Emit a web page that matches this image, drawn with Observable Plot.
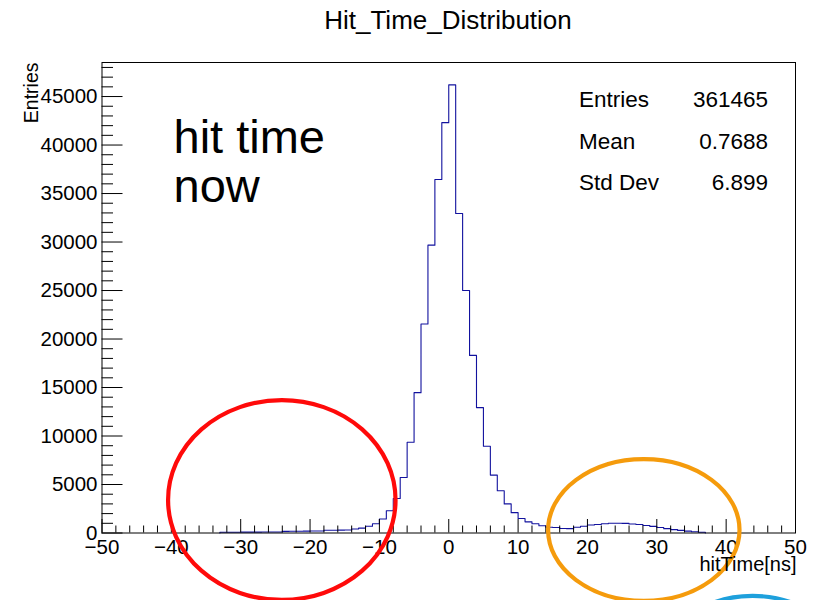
<!DOCTYPE html>
<html>
<head>
<meta charset="utf-8">
<script src="https://cdn.jsdelivr.net/npm/d3@7"></script>
<script src="https://cdn.jsdelivr.net/npm/@observablehq/plot@0.6"></script>
<style>
  body { margin: 0; background: #fff; font-family: "Liberation Sans", Arial, Helvetica, sans-serif; }
  #title { height: 40px; width: 694px; margin-left: 101px; text-align: center; font-size: 26px; line-height: 40px; color: #000; }
</style>
</head>
<body>
<div id="title">Hit_Time_Distribution</div>
<div id="chart"></div>
<script>
// Histogram of hit times, 1 ns bins; first filled bin starts at -33 ns
const binWidth = 1;
const firstBinLow = -33;
const counts = [
  70, 80, 80, 90, 90, 90, 100, 100, 110,        // -33 .. -25
  170, 180, 180, 190, 200, 200,                  // -24 .. -19
  280, 290, 300, 310,                            // -18 .. -15
  410, 500, 700, 960, 1450, 2300, 3550, 5720,    // -14 .. -7
  9350, 14470, 21550, 29680, 36440, 42310,       // -6 .. -1
  46200, 32940, 25010, 18310, 12930, 8940,       // 0 .. 5
  5970, 4350, 3000, 2100, 1500, 1150, 950, 750,  // 6 .. 13
  600, 560, 470, 450, 600, 700, 820, 880,        // 14 .. 21
  950, 1000, 1010, 990, 930, 870, 770, 680,      // 22 .. 29
  560, 450, 350, 270, 190, 130, 80               // 30 .. 36
];

// Statistics box
const statLabels = ["Entries", "Mean", "Std Dev"];
const statValues = ["361465", "0.7688", "6.899"];

// Axis ticks
const xMajorTicks = [-50, -40, -30, -20, -10, 0, 10, 20, 30, 40, 50];
const xMinorTicks = d3.range(-50, 51, 2).filter(v => v % 10 !== 0);
const yMajorTicks = [0, 5000, 10000, 15000, 20000, 25000, 30000, 35000, 40000, 45000];
const yMinorTicks = d3.range(0, 48001, 1000).filter(v => v % 5000 !== 0);
const yMax = 48510;

// Hand-drawn highlight ellipses, in data units (ns, entries)
const highlights = [
  {x: -24.0, y: 3350, rx: 16.4, ry: 10300, color: "#ff0a0a"},
  {x: 28.2, y: 260, rx: 13.8, ry: 7310, color: "#f59b0c"},
  {x: 43.9, y: -13750, rx: 13.0, ry: 7210, color: "#1ea0dc"}
];

// Step outline points
const outline = [{t: firstBinLow, n: 0}]
  .concat(counts.map((n, i) => ({t: firstBinLow + i * binWidth, n})))
  .concat([{t: firstBinLow + counts.length * binWidth, n: 0}]);

const W = 816, H = 560;
const mL = 101.5, mR = 21, mT = 22, mB = 67.5;
const frameW = W - mL - mR, frameH = H - mT - mB;
const fmt = d => d < 0 ? "\u2212" + (-d) : String(d);

const highlightMark = (index, scales) => {
  const g = d3.create("svg:g").attr("fill", "none");
  for (const h of highlights) {
    const cx = scales.x(h.x), cy = scales.y(h.y);
    const rx = Math.abs(scales.x(h.x + h.rx) - cx);
    const ry = Math.abs(scales.y(h.y + h.ry) - cy);
    g.append("ellipse")
      .attr("cx", cx).attr("cy", cy).attr("rx", rx).attr("ry", ry)
      .attr("stroke", h.color).attr("stroke-width", 4.2);
  }
  return g.node();
};

const chart = Plot.plot({
  width: W, height: H,
  marginLeft: mL, marginRight: mR, marginTop: mT, marginBottom: mB,
  style: {fontFamily: "'Liberation Sans', Arial, Helvetica, sans-serif", fontSize: "20.5px", color: "black", background: "white", overflow: "visible"},
  x: {domain: [-50, 50], ticks: xMajorTicks, tickSize: 0, tickPadding: 6, tickFormat: fmt, label: null},
  y: {domain: [0, yMax], ticks: yMajorTicks, tickSize: 0, tickPadding: 4.5, tickFormat: fmt, label: null},
  marks: [
    Plot.line(outline, {x: "t", y: "n", curve: "step-after", stroke: "#12129e", strokeWidth: 1.1}),
    Plot.frame({stroke: "black", strokeWidth: 1}),
    Plot.ruleX(xMajorTicks, {x: d => d, stroke: "black", insetTop: frameH - 13.5}),
    Plot.ruleX(xMinorTicks, {x: d => d, stroke: "black", insetTop: frameH - 7}),
    Plot.ruleY(yMajorTicks, {y: d => d, stroke: "black", insetRight: frameW - 21}),
    Plot.ruleY(yMinorTicks, {y: d => d, stroke: "black", insetRight: frameW - 11.5}),
    highlightMark,
    Plot.text(["hit time\nnow"], {frameAnchor: "top-left", textAnchor: "start", lineAnchor: "top", dx: 71.5, dy: 56, fontSize: 47, lineHeight: 1.04, fill: "black"}),
    Plot.text([statLabels.join("\n")], {frameAnchor: "top-left", textAnchor: "start", lineAnchor: "top", dx: 477, dy: 15, fontSize: 22.5, lineHeight: 1.85, fill: "black"}),
    Plot.text([statValues.join("\n")], {frameAnchor: "top-right", textAnchor: "end", lineAnchor: "top", dx: -27.5, dy: 15, fontSize: 22.5, lineHeight: 1.85, fill: "black"}),
    Plot.text(["Entries"], {frameAnchor: "top-left", textAnchor: "end", rotate: -90, dx: -78, dy: 0, fontSize: 19.5, fill: "black"}),
    Plot.text(["hitTime[ns]"], {frameAnchor: "bottom-right", textAnchor: "end", dx: 1, dy: 37.5, fontSize: 20, fill: "black"})
  ]
});
document.getElementById("chart").appendChild(chart);
</script>
</body>
</html>
